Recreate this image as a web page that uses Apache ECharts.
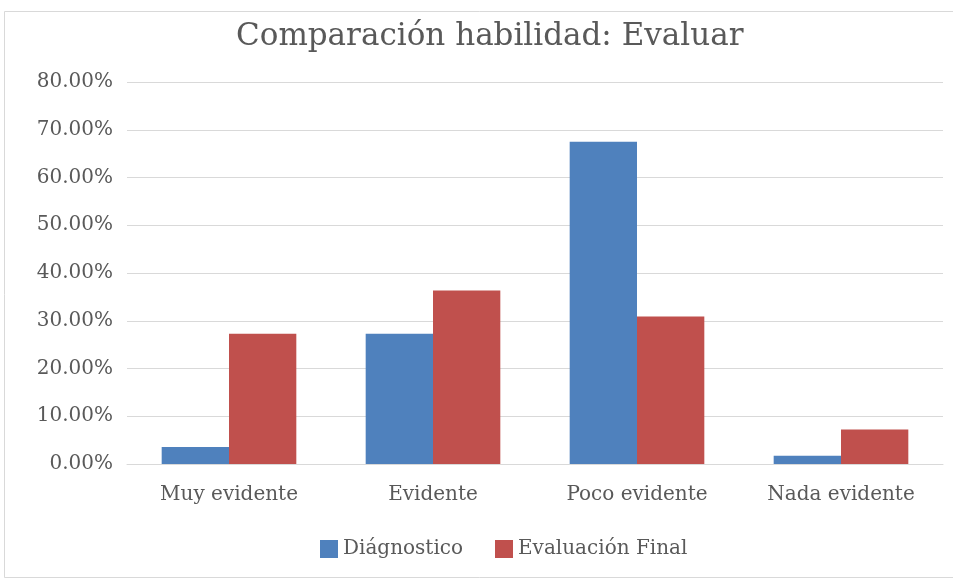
<!DOCTYPE html>
<html><head><meta charset="utf-8">
<script src="https://cdn.jsdelivr.net/npm/echarts@6/dist/echarts.min.js"></script>
<style>html,body{margin:0;padding:0;background:#fff}#c{width:953px;height:580px}</style>
</head><body><div id="c"></div>
<script>
const categories = ['Muy evidente', 'Evidente', 'Poco evidente', 'Nada evidente'];
const diagnostico = [3.56, 27.27, 67.5, 1.75];
const evaluacionFinal = [27.27, 36.36, 30.9, 7.2];
const seriesNames = ['Diágnostico', 'Evaluación Final'];
const FONT = 'DejaVu Serif';
const chart = echarts.init(document.getElementById('c'));
chart.setOption({
  animation: false,
  backgroundColor: '#fff',
  textStyle: {fontFamily: FONT},
  graphic: [{type: 'rect', shape: {x: 4.5, y: 11.5, width: 960, height: 566}, style: {fill: 'none', stroke: '#d9d9d9', lineWidth: 1}, silent: true}],
  title: {text: 'Comparación habilidad: Evaluar', left: 231, top: 16,
    textStyle: {fontFamily: FONT, fontSize: 31, fontWeight: 'normal', color: '#595959'}},
  legend: {bottom: 16, left: 315, itemWidth: 18, itemHeight: 18, itemGap: 32,
    icon: 'rect', textStyle: {fontFamily: FONT, fontSize: 20, color: '#595959'}},
  grid: {left: 127, right: 10, top: 82, bottom: 116},
  xAxis: {type: 'category', data: categories,
    axisLine: {lineStyle: {color: '#d9d9d9', width: 1}}, axisTick: {show: false},
    axisLabel: {fontFamily: FONT, fontSize: 20, color: '#595959', margin: 21}},
  yAxis: {type: 'value', min: 0, max: 80, interval: 10,
    axisLine: {show: false}, axisTick: {show: false},
    splitLine: {lineStyle: {color: '#d9d9d9', width: 1}},
    axisLabel: {fontFamily: FONT, fontSize: 20, color: '#595959', margin: 14,
      formatter: v => v.toFixed(2) + '%'}},
  series: [
    {name: seriesNames[0], type: 'bar', data: diagnostico, barGap: '0%', barCategoryGap: '34%',
      itemStyle: {color: '#4f81bd'}},
    {name: seriesNames[1], type: 'bar', data: evaluacionFinal, barGap: '0%', barCategoryGap: '34%',
      itemStyle: {color: '#c0504d'}}
  ]
});
</script></body></html>
